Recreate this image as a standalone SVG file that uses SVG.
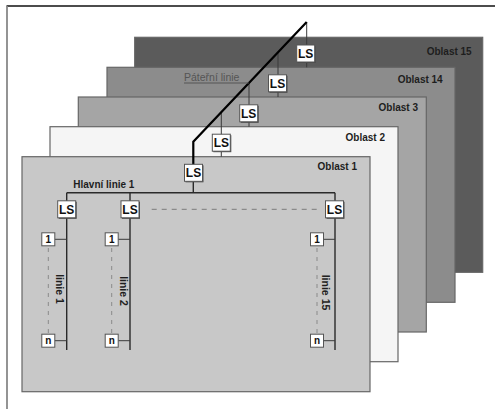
<svg xmlns="http://www.w3.org/2000/svg" width="495" height="409" viewBox="0 0 495 409">
  <style>
    .area { stroke: #666666; stroke-width: 1.2; }
    .area-label { font-family: "Liberation Sans", Arial, sans-serif; font-weight: bold; font-size: 10px; fill: #1e1e1e; text-anchor: end; }
    .ls-box { fill: #ffffff; stroke: #555555; stroke-width: 1; }
    .ls-shadow { fill: #4a4a4a; }
    .ls-text { font-family: "Liberation Sans", Arial, sans-serif; font-weight: bold; font-size: 12px; fill: #111111; text-anchor: middle; }
    .dev-box { fill: #ffffff; stroke: #555555; stroke-width: 1; }
    .dev-text { font-family: "Liberation Sans", Arial, sans-serif; font-weight: bold; font-size: 10px; fill: #111111; text-anchor: middle; }
    .line { fill: none; stroke: #2a2a2a; stroke-width: 1.4; }
    .thin { fill: none; stroke: #3a3a3a; stroke-width: 1; }
    .backbone { fill: none; stroke: #000000; stroke-width: 2.2; stroke-linejoin: miter; }
    .dash { fill: none; stroke: #8a8a8a; stroke-width: 1.2; stroke-dasharray: 5 5; }
    .vdash { fill: none; stroke: #8a8a8a; stroke-width: 1; stroke-dasharray: 4 5; }
    .line-label { font-family: "Liberation Sans", Arial, sans-serif; font-weight: bold; font-size: 10.5px; fill: #1e1e1e; text-anchor: middle; }
    .main-label { font-family: "Liberation Sans", Arial, sans-serif; font-weight: bold; font-size: 10px; fill: #1e1e1e; }
    .bb-label { font-family: "Liberation Sans", Arial, sans-serif; font-size: 10.5px; fill: #555555; }
  </style>
  <defs>
    <g id="ls">
      <rect class="ls-shadow" x="-8" y="-7.5" width="18" height="17"/>
      <rect class="ls-box" x="-9" y="-8.5" width="18" height="17"/>
      <text class="ls-text" x="0" y="4.3">LS</text>
    </g>
  </defs>

  <rect x="0" y="0" width="495" height="409" fill="#ffffff"/>

  <!-- page frame -->
  <g id="frame">
    <line x1="6.5" y1="6" x2="495" y2="6" stroke="#111111" stroke-width="1.6"/>
    <line x1="7" y1="6" x2="7" y2="409" stroke="#888888" stroke-width="1.8"/>
  </g>

  <!-- stacked areas, back to front -->
  <g id="area15">
    <rect class="area" x="134.7" y="37.3" width="348" height="235" fill="#5b5b5b"/>
    <text class="area-label" x="471.7" y="54.5">Oblast 15</text>
  </g>
  <g id="area14">
    <rect class="area" x="107" y="67.3" width="348" height="235" fill="#8c8c8c"/>
    <text class="area-label" x="442.7" y="83">Oblast 14</text>
  </g>
  <g id="area3">
    <rect class="area" x="78.3" y="97" width="348" height="235" fill="#a5a5a5"/>
    <text class="area-label" x="418" y="111">Oblast 3</text>
  </g>
  <g id="area2">
    <rect class="area" x="50" y="126.7" width="348" height="235" fill="#f5f5f5"/>
    <text class="area-label" x="385" y="141">Oblast 2</text>
  </g>
  <g id="area1">
    <rect class="area" x="22" y="156.7" width="348" height="235" fill="#c8c8c8"/>
    <text class="area-label" x="357" y="170">Oblast 1</text>
  </g>

  <!-- connectors -->
  <g id="connectors">
    <!-- backbone and its drops to each area coupler -->
    <path class="thin" d="M306.7,22 V67.3"/>
    <path class="thin" d="M278,53 V97"/>
    <path class="thin" d="M249,83 V126.7"/>
    <path class="thin" d="M221.3,112.5 V156.7"/>
    <path class="backbone" d="M306.7,22 L193.3,141.7 V165"/>
    <path class="line" d="M193.3,180 V192.7"/>
    <line x1="184" y1="83" x2="248.8" y2="83" stroke="#555555" stroke-width="1"/>
    <!-- main line -->
    <path class="line" d="M66.7,192.7 H335"/>
    <path class="line" d="M66.7,192.7 V350"/>
    <path class="line" d="M130,192.7 V350"/>
    <path class="line" d="M335,192.7 V350"/>
    <path class="dash" d="M151.7,209.3 H316.7"/>
    <!-- device taps -->
    <path class="thin" d="M54.8,239.3 H66.7 M54.8,340.7 H66.7"/>
    <path class="thin" d="M118.2,239.3 H130 M118.2,340.7 H130"/>
    <path class="thin" d="M323.5,239.3 H335 M323.5,340.7 H335"/>
    <path class="vdash" d="M48.3,248 V333 M111.7,248 V333 M317,248 V333"/>
  </g>

  <text class="bb-label" x="184" y="81.3">Páteřní linie</text>
  <text class="main-label" x="73.3" y="188">Hlavní linie 1</text>

  <!-- couplers -->
  <g id="ls-area15"><use href="#ls" x="305.7" y="53.5"/></g>
  <g id="ls-area14"><use href="#ls" x="277.5" y="83.3"/></g>
  <g id="ls-area3"><use href="#ls" x="248.7" y="113.3"/></g>
  <g id="ls-area2"><use href="#ls" x="221.3" y="142.7"/></g>
  <g id="ls-area1"><use href="#ls" x="193.5" y="172.8"/></g>
  <g id="ls-line1"><use href="#ls" x="66.7" y="209.3"/></g>
  <g id="ls-line2"><use href="#ls" x="130" y="209.3"/></g>
  <g id="ls-line15"><use href="#ls" x="334.5" y="209.3"/></g>

  <!-- devices -->
  <g id="dev-1-1"><rect class="dev-box" x="41.8" y="232.8" width="13" height="13"/><text class="dev-text" x="48.3" y="243">1</text></g>
  <g id="dev-1-n"><rect class="dev-box" x="41.8" y="334.2" width="13" height="13"/><text class="dev-text" x="48.3" y="344">n</text></g>
  <g id="dev-2-1"><rect class="dev-box" x="105.2" y="232.8" width="13" height="13"/><text class="dev-text" x="111.7" y="243">1</text></g>
  <g id="dev-2-n"><rect class="dev-box" x="105.2" y="334.2" width="13" height="13"/><text class="dev-text" x="111.7" y="344">n</text></g>
  <g id="dev-15-1"><rect class="dev-box" x="310.5" y="232.8" width="13" height="13"/><text class="dev-text" x="317" y="243">1</text></g>
  <g id="dev-15-n"><rect class="dev-box" x="310.5" y="334.2" width="13" height="13"/><text class="dev-text" x="317" y="344">n</text></g>

  <!-- line labels -->
  <text class="line-label" transform="translate(55.8,289) rotate(90)">linie 1</text>
  <text class="line-label" transform="translate(119.8,291) rotate(90)">linie 2</text>
  <text class="line-label" transform="translate(322.3,292.5) rotate(90)">linie 15</text>
</svg>
